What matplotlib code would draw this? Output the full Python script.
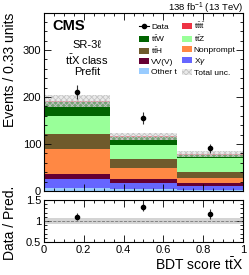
import matplotlib
matplotlib.use("Agg")
import matplotlib.pyplot as plt
import numpy as np
from matplotlib.ticker import MultipleLocator, FormatStrFormatter
from matplotlib.patches import Patch
from matplotlib.lines import Line2D

plt.rcParams['font.family'] = ['Liberation Sans', 'DejaVu Sans']
plt.rcParams['mathtext.fontset'] = 'custom'
plt.rcParams['mathtext.rm'] = 'Liberation Sans'
plt.rcParams['mathtext.it'] = 'Liberation Sans:italic'
plt.rcParams['mathtext.bf'] = 'Liberation Sans:bold'
plt.rcParams['hatch.linewidth'] = 0.6

# bin edges of the BDT score
edges = [0, 1/3, 2/3, 1]

# prefit yields per bin, stacked bottom -> top
other_t = [7, 5, 2]
x_gamma = [18, 12.6, 8.6]
vvv = [12, 7.4, 7]
nonprompt = [53, 23, 10.4]
tth = [32, 20, 13]
ttz = [37, 29.5, 29.6]
ttw = [30, 17.5, 7]
tttt = [2, 1.5, 1]
total_unc = [13, 7, 6]
data = [211, 156, 91]

stack = [
    (other_t, '#99ccff', 'Other t'),
    (x_gamma, '#6666ff', 'X$\\gamma$'),
    (vvv, '#660033', 'VV(V)'),
    (nonprompt, '#ff8844', 'Nonprompt'),
    (tth, '#6f5a2c', r'$\mathrm{t\bar{t}H}$'),
    (ttz, '#99ff99', r'$\mathrm{t\bar{t}Z}$'),
    (ttw, '#006400', r'$\mathrm{t\bar{t}W}$'),
    (tttt, '#ee3344', r'$\mathrm{t\bar{t}t\bar{t}}$'),
]

fig = plt.figure(figsize=(2.49, 2.75), dpi=100)
ax = fig.add_axes([0.1767, 0.3055, 0.799, 0.649])
rax = fig.add_axes([0.1767, 0.12, 0.799, 0.1527], sharex=ax)

bottom = np.zeros(3)
handles = {}
for vals, col, lab in stack:
    vals = np.array(vals)
    ax.stairs(bottom + vals, edges, baseline=bottom, fill=True, color=col, lw=0)
    handles[lab] = Patch(facecolor=col, edgecolor='none', label=lab)
    bottom = bottom + vals
total = bottom
unc = np.array(total_unc)

band_face = (0.85, 0.85, 0.85, 0.55)
ax.stairs(total + unc, edges, baseline=total - unc, fill=True,
          facecolor=band_face, edgecolor='#c4c4c4', hatch='xxxxxx', lw=0)

centers = 0.5 * (np.array(edges[:-1]) + np.array(edges[1:]))
d = np.array(data, dtype=float)
ax.errorbar(centers, d, yerr=np.sqrt(d), fmt='o', color='k', ms=3, lw=0.8,
            ecolor='#333333', capsize=0)

ax.set_xlim(0, 1)
ax.set_ylim(0, 380)
ax.yaxis.set_major_locator(MultipleLocator(100))
ax.yaxis.set_minor_locator(MultipleLocator(20))
ax.xaxis.set_major_locator(MultipleLocator(0.2))
ax.xaxis.set_minor_locator(MultipleLocator(0.05))
ax.set_ylabel('Events / 0.33 units', fontsize=10, loc='top')
plt.setp(ax.get_xticklabels(), visible=False)

# ratio panel
rel = unc / total
rax.stairs(1 + rel, edges, baseline=1 - rel, fill=True, color='#d4d4d4', lw=0)
rax.axhline(1, color='#777777', ls='--', lw=0.6)
rax.errorbar(centers, d / total, yerr=np.sqrt(d) / total, fmt='o', color='k',
             ms=3, lw=0.8, ecolor='#333333', capsize=0)
rax.set_ylim(0.5, 1.5)
rax.set_yticks([0.5, 1, 1.5])
rax.yaxis.set_major_formatter(FormatStrFormatter('%g'))
rax.yaxis.set_minor_locator(MultipleLocator(0.1))
rax.xaxis.set_major_formatter(FormatStrFormatter('%g'))
rax.set_ylabel('Data / Pred.', fontsize=10)
rax.set_xlabel(r'BDT score $\mathrm{t\bar{t}X}$', fontsize=10, loc='right', labelpad=1)

for a in (ax, rax):
    a.tick_params(which='both', direction='in', top=True, right=True, labelsize=8, pad=2)
    a.tick_params(which='major', length=5, width=0.6)
    a.tick_params(which='minor', length=2.5, width=0.6)
    for s in a.spines.values():
        s.set_linewidth(0.8)
rax.yaxis.set_label_coords(-0.135, 0.45)
ax.yaxis.set_label_coords(-0.135, 1.0)

ax.text(0.04, 0.925, 'CMS', transform=ax.transAxes, fontsize=10.5,
        fontweight='bold', va='center', ha='left')
ax.text(0.216, 0.82, 'SR-3ℓ', transform=ax.transAxes, fontsize=8, ha='center', va='center')
ax.text(0.216, 0.735, r'$\mathrm{t\bar{t}}$X class', transform=ax.transAxes, fontsize=8,
        ha='center', va='center')
ax.text(0.216, 0.665, 'Prefit', transform=ax.transAxes, fontsize=8, ha='center', va='center')
ax.text(1.0, 1.01, r'138 fb$^{-1}$ (13 TeV)', transform=ax.transAxes, fontsize=6.8,
        ha='right', va='baseline')

data_h = Line2D([], [], marker='o', color='k', ms=3, lw=0.8, label='Data')
unc_h = Patch(facecolor=band_face, edgecolor='#c4c4c4', hatch='xxxxxx',
              lw=0, label='Total unc.')
order = [data_h, handles[r'$\mathrm{t\bar{t}W}$'], handles[r'$\mathrm{t\bar{t}H}$'],
         handles['VV(V)'], handles['Other t'],
         handles[r'$\mathrm{t\bar{t}t\bar{t}}$'], handles[r'$\mathrm{t\bar{t}Z}$'],
         handles['Nonprompt'], handles['X$\\gamma$'], unc_h]
ax.legend(handles=order, ncol=2, loc='upper left', bbox_to_anchor=(0.48, 0.955),
          frameon=False, fontsize=6, handlelength=1.2, handleheight=0.75,
          handletextpad=0.2, labelspacing=0.25, columnspacing=0.6, borderpad=0,
          borderaxespad=0)

fig.savefig('out.png', dpi=100)
